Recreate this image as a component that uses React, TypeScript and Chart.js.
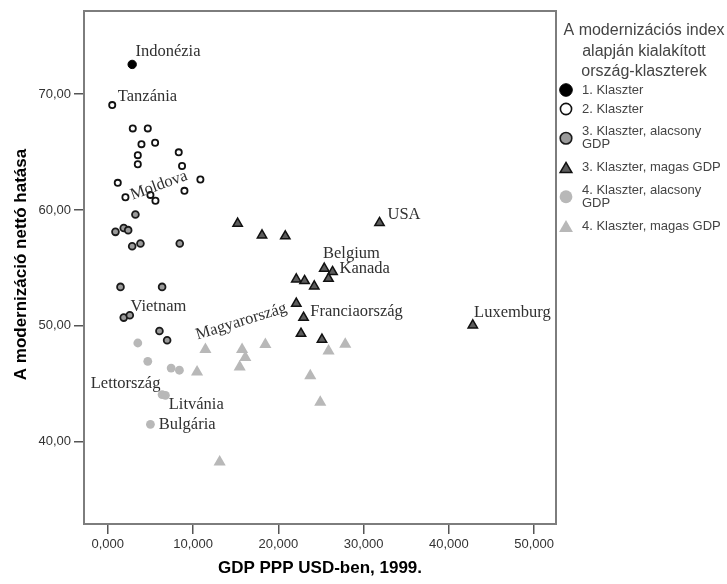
import React, { useEffect, useRef } from 'react';
import { Chart, registerables } from 'chart.js';

Chart.register(...registerables);

// ---------- data ----------
const clusterNames = [
  '1. Klaszter',
  '2. Klaszter',
  '3. Klaszter, alacsony GDP',
  '3. Klaszter, magas GDP',
  '4. Klaszter, alacsony GDP',
  '4. Klaszter, magas GDP',
];
const legendTitle = ['A modernizációs index', 'alapján kialakított', 'ország-klaszterek'];
const xTitle = 'GDP PPP USD-ben, 1999.';
const yTitle = 'A modernizáció nettó hatása';
const xTicks = [0, 10, 20, 30, 40, 50];
const yTicks = [40, 50, 60, 70];
const xRange = [-2.79, 52.57];
const yRange = [32.9, 77.17];

const c1X = [2.86];
const c1Y = [72.56];

const c2X = [0.52, 2.93, 4.69, 3.95, 5.55, 3.52, 3.52, 8.32, 8.71, 1.17, 10.86, 8.99, 2.07, 5.0, 5.59];
const c2Y = [69.05, 67.04, 67.04, 65.68, 65.8, 64.73, 63.95, 64.97, 63.8, 62.34, 62.63, 61.65, 61.1, 61.3, 60.79];

const c3loX = [3.24, 0.9, 1.87, 2.39, 2.86, 3.83, 8.44, 1.49, 6.37, 1.87, 2.58, 6.06, 6.96];
const c3loY = [59.61, 58.11, 58.45, 58.26, 56.87, 57.1, 57.1, 53.36, 53.36, 50.71, 50.92, 49.56, 48.76];

const c3hiX = [15.23, 18.09, 20.82, 31.87, 25.39, 26.36, 25.89, 22.11, 23.08, 24.22, 22.11, 22.96, 22.66, 25.12, 42.81];
const c3hiY = [58.83, 57.82, 57.74, 58.89, 54.95, 54.66, 54.08, 54.02, 53.88, 53.42, 51.93, 50.71, 49.33, 48.82, 50.05];

const c4loX = [3.52, 4.69, 7.43, 8.4, 6.37, 6.76, 5.0];
const c4loY = [48.52, 46.94, 46.36, 46.17, 44.07, 44.0, 41.5];

const c4hiX = [11.45, 15.75, 16.13, 18.48, 10.47, 15.47, 23.75, 24.92, 25.89, 27.85, 13.12];
const c4hiY = [47.95, 47.95, 47.26, 48.38, 46.02, 46.45, 45.7, 43.4, 47.83, 48.41, 38.25];

const seriesX = [c1X, c2X, c3loX, c3hiX, c4loX, c4hiX];
const seriesY = [c1Y, c2Y, c3loY, c3hiY, c4loY, c4hiY];

const countryLabels = [
  { text: 'Indonézia', series: 0, index: 0 },
  { text: 'Tanzánia', series: 1, index: 0 },
  { text: 'Moldova', series: 1, index: 12 },
  { text: 'Vietnam', series: 2, index: 10 },
  { text: 'USA', series: 3, index: 3 },
  { text: 'Belgium', series: 3, index: 4 },
  { text: 'Kanada', series: 3, index: 5 },
  { text: 'Magyarország', series: 3, index: 10 },
  { text: 'Franciaország', series: 3, index: 11 },
  { text: 'Luxemburg', series: 3, index: 14 },
  { text: 'Lettország', series: 4, index: 4 },
  { text: 'Litvánia', series: 4, index: 5 },
  { text: 'Bulgária', series: 4, index: 6 },
];

// ---------- styles ----------
const SANS = "'Liberation Sans', Arial, sans-serif";
const SERIF = "'Liberation Serif', 'Times New Roman', serif";

const labelPlacement: Record<string, { dx: number; dy: number; align: CanvasTextAlign; rot: number }> = {
  'Indonézia': { dx: 3.3, dy: -12.3, align: 'left', rot: 0 },
  'Tanzánia': { dx: 5.6, dy: -8.3, align: 'left', rot: 0 },
  'Moldova': { dx: 33.5, dy: -11.7, align: 'center', rot: -20 },
  'Vietnam': { dx: 0.7, dy: -9, align: 'left', rot: 0 },
  'USA': { dx: 8, dy: -8.4, align: 'left', rot: 0 },
  'Belgium': { dx: -1.3, dy: -15, align: 'left', rot: 0 },
  'Kanada': { dx: 7, dy: -3.4, align: 'left', rot: 0 },
  'Magyarország': { dx: -55, dy: 18, align: 'center', rot: -17 },
  'Franciaország': { dx: 6.7, dy: -5.6, align: 'left', rot: 0 },
  'Luxemburg': { dx: 1.3, dy: -12.7, align: 'left', rot: 0 },
  'Lettország': { dx: -1.7, dy: -11.3, align: 'right', rot: 0 },
  'Litvánia': { dx: 3.3, dy: 9.3, align: 'left', rot: 0 },
  'Bulgária': { dx: 8.3, dy: 0, align: 'left', rot: 0 },
};

type Sty = { shape: 'circle' | 'triangle'; r: number; fill: string; stroke: string; bw: number; lr: number; lbw: number };
const seriesStyles: Sty[] = [
  { shape: 'circle', r: 4.2, fill: '#000000', stroke: '#000000', bw: 1, lr: 6.3, lbw: 1 },
  { shape: 'circle', r: 3.1, fill: '#ffffff', stroke: '#111111', bw: 1.8, lr: 5.6, lbw: 1.6 },
  { shape: 'circle', r: 3.4, fill: '#9a9a9a', stroke: '#1a1a1a', bw: 1.8, lr: 5.8, lbw: 1.6 },
  { shape: 'triangle', r: 5.4, fill: '#5c5c5c', stroke: '#111111', bw: 1.5, lr: 6.8, lbw: 1.5 },
  { shape: 'circle', r: 4.4, fill: '#b8b8b8', stroke: '#b8b8b8', bw: 0, lr: 6.4, lbw: 0 },
  { shape: 'triangle', r: 7, fill: '#b8b8b8', stroke: '#b8b8b8', bw: 0, lr: 8, lbw: 0 },
];

function drawMarker(ctx: CanvasRenderingContext2D, s: Sty, x: number, y: number, r: number, bw: number) {
  ctx.beginPath();
  if (s.shape === 'circle') {
    ctx.arc(x, y, r, 0, Math.PI * 2);
  } else {
    for (let k = 0; k < 3; k++) {
      const a = (k * 2 * Math.PI) / 3;
      const px = x + Math.sin(a) * r;
      const py = y - Math.cos(a) * r + r / 4;
      if (k === 0) ctx.moveTo(px, py);
      else ctx.lineTo(px, py);
    }
    ctx.closePath();
  }
  ctx.fillStyle = s.fill;
  ctx.fill();
  if (bw > 0) {
    ctx.lineWidth = bw;
    ctx.strokeStyle = s.stroke;
    ctx.stroke();
  }
}

const decoPlugin = {
  id: 'deco',
  beforeDatasetsDraw(chart: any) {
    const { ctx, chartArea: a } = chart;
    ctx.save();
    ctx.strokeStyle = '#7d7d7d';
    ctx.lineWidth = 2;
    ctx.strokeRect(a.left, a.top, a.right - a.left, a.bottom - a.top);
    ctx.restore();
  },
  afterDatasetsDraw(chart: any) {
    const { ctx } = chart;
    ctx.save();
    ctx.font = `16.5px ${SERIF}`;
    ctx.fillStyle = '#303030';
    ctx.textBaseline = 'middle';
    countryLabels.forEach((lb) => {
      const el = chart.getDatasetMeta(lb.series).data[lb.index];
      if (!el) return;
      const p = labelPlacement[lb.text];
      ctx.save();
      ctx.translate(el.x + p.dx, el.y + p.dy);
      ctx.rotate((p.rot * Math.PI) / 180);
      ctx.textAlign = p.align;
      ctx.fillText(lb.text, 0, 0);
      ctx.restore();
    });
    ctx.restore();
  },
  afterDraw(chart: any) {
    const { ctx, chartArea: a } = chart;
    ctx.save();
    // axis titles
    ctx.fillStyle = '#000';
    ctx.font = `bold 17px ${SANS}`;
    ctx.textAlign = 'center';
    ctx.textBaseline = 'middle';
    ctx.fillText(xTitle, (a.left + a.right) / 2, 568);
    ctx.save();
    ctx.translate(21.7, (a.top + a.bottom) / 2 - 3);
    ctx.rotate(-Math.PI / 2);
    ctx.fillText(yTitle, 0, 0);
    ctx.restore();

    // legend
    ctx.fillStyle = '#444';
    ctx.font = `16px ${SANS}`;
    legendTitle.forEach((t, i) => ctx.fillText(t, 644, 30.7 + i * 20.5));

    ctx.font = `13px ${SANS}`;
    ctx.textAlign = 'left';
    const textX = 582;
    const maxW = 727 - textX - 1;
    const rows = chart.data.datasets.map((ds: any) => {
      const words = String(ds.label).split(' ');
      const lines: string[] = [];
      let cur = '';
      words.forEach((w: string) => {
        const test = cur ? cur + ' ' + w : w;
        if (ctx.measureText(test).width > maxW && cur) {
          lines.push(cur);
          cur = w;
        } else cur = test;
      });
      if (cur) lines.push(cur);
      return lines;
    });
    const lineGap = 13.3;
    const h = (n: number) => (n > 1 ? 39.5 : 19);
    let center = 90;
    rows.forEach((lines: string[], i: number) => {
      if (i > 0) center += (h(rows[i - 1].length) + h(lines.length)) / 2;
      const s = seriesStyles[i];
      drawMarker(ctx, s, 566, center, s.lr, s.lbw);
      ctx.fillStyle = '#444';
      lines.forEach((ln, j) => {
        ctx.fillText(ln, textX, center + (j - (lines.length - 1) / 2) * lineGap);
      });
    });
    ctx.restore();
  },
};

export default function App() {
  const ref = useRef<HTMLCanvasElement>(null);
  useEffect(() => {
    if (!ref.current) return;
    const datasets = seriesX.map((xs, si) => {
      const s = seriesStyles[si];
      return {
        label: clusterNames[si],
        data: xs.map((x, i) => ({ x, y: seriesY[si][i] })),
        pointStyle: s.shape,
        pointRadius: s.r,
        pointHoverRadius: s.r,
        pointBackgroundColor: s.fill,
        pointBorderColor: s.stroke,
        pointBorderWidth: s.bw,
        backgroundColor: s.fill,
        borderColor: s.stroke,
        showLine: false,
      };
    });
    const chart = new Chart(ref.current, {
      type: 'scatter',
      data: { datasets } as any,
      options: {
        animation: false,
        responsive: false,
        events: [],
        layout: { padding: { left: 0, top: 11, right: 171, bottom: 0 } },
        plugins: { legend: { display: false }, tooltip: { enabled: false }, title: { display: false } },
        scales: {
          x: {
            type: 'linear',
            min: xRange[0],
            max: xRange[1],
            afterBuildTicks: (sc: any) => {
              sc.ticks = xTicks.map((v) => ({ value: v }));
            },
            afterFit: (sc: any) => {
              sc.height = 60;
            },
            grid: { display: true, drawOnChartArea: false, drawTicks: true, tickLength: 10, color: '#555', lineWidth: 1.5 },
            border: { display: false },
            ticks: {
              autoSkip: false,
              maxRotation: 0,
              padding: 3,
              color: '#333',
              font: { family: SANS, size: 13 },
              callback: (v: any) => Number(v).toFixed(3).replace('.', ','),
            },
          },
          y: {
            type: 'linear',
            min: yRange[0],
            max: yRange[1],
            afterBuildTicks: (sc: any) => {
              sc.ticks = yTicks.map((v) => ({ value: v }));
            },
            afterFit: (sc: any) => {
              sc.width = 84;
            },
            grid: { display: true, drawOnChartArea: false, drawTicks: true, tickLength: 10, color: '#555', lineWidth: 1.5 },
            border: { display: false },
            ticks: {
              autoSkip: false,
              padding: 3,
              color: '#333',
              font: { family: SANS, size: 13 },
              callback: (v: any) => Number(v).toFixed(2).replace('.', ','),
            },
          },
        },
      } as any,
      plugins: [decoPlugin],
    });
    return () => chart.destroy();
  }, []);
  return (
    <div style={{ position: 'absolute', left: 0, top: 0, width: 727, height: 584, background: '#fff' }}>
      <canvas ref={ref} width={727} height={584} style={{ display: 'block' }} />
    </div>
  );
}
